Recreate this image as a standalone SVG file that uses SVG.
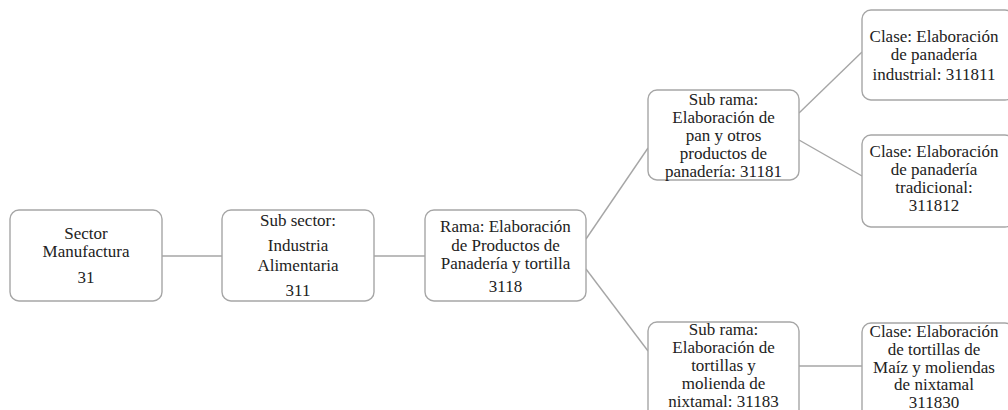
<svg xmlns="http://www.w3.org/2000/svg" width="1008" height="410" viewBox="0 0 1008 410">
<style>
.box{fill:#fff;stroke:#a6a6a6;stroke-width:1.4}
.t{font-family:'Liberation Serif','Times New Roman','DejaVu Serif',serif;font-size:17px;fill:#222;text-anchor:middle}
.c{stroke:#a6a6a6;stroke-width:1.4;fill:none}
</style>
<rect width="1008" height="410" fill="#fff"/>
<g id="connectors">
<line class="c" x1="162" y1="256" x2="222" y2="256"/>
<line class="c" x1="374" y1="256" x2="425" y2="256"/>
<line class="c" x1="586" y1="239" x2="648" y2="148"/>
<line class="c" x1="586" y1="269" x2="648" y2="351"/>
<line class="c" x1="799" y1="113" x2="862" y2="52"/>
<line class="c" x1="799" y1="140" x2="862" y2="176"/>
<line class="c" x1="799" y1="366" x2="862" y2="366"/>
</g>
<g id="n1">
<rect class="box" x="10" y="210" width="152" height="91" rx="9"/>
<text class="t" x="86" y="239" font-family="Liberation Serif, serif">Sector</text>
<text class="t" x="86" y="257" font-family="Liberation Serif, serif">Manufactura</text>
<text class="t" x="86" y="283" font-family="Liberation Serif, serif">31</text>
</g>
<g id="n2">
<rect class="box" x="222" y="210" width="152" height="91" rx="9"/>
<text class="t" x="298" y="226">Sub sector:</text>
<text class="t" x="298" y="251">Industria</text>
<text class="t" x="298" y="271">Alimentaria</text>
<text class="t" x="298" y="296">311</text>
</g>
<g id="n3">
<rect class="box" x="425" y="210" width="161" height="91" rx="9"/>
<text class="t" x="505.5" y="232">Rama: Elaboración</text>
<text class="t" x="505.5" y="251">de Productos de</text>
<text class="t" x="505.5" y="269">Panadería y tortilla</text>
<text class="t" x="505.5" y="292">3118</text>
</g>
<g id="n4">
<rect class="box" x="648" y="90" width="151" height="90" rx="9"/>
<text class="t" x="723.5" y="105">Sub rama:</text>
<text class="t" x="723.5" y="123">Elaboración de</text>
<text class="t" x="723.5" y="141">pan y otros</text>
<text class="t" x="723.5" y="159">productos de</text>
<text class="t" x="723.5" y="177">panadería: 31181</text>
</g>
<g id="n5">
<rect class="box" x="648" y="322" width="151" height="100" rx="9"/>
<text class="t" x="723.5" y="335">Sub rama:</text>
<text class="t" x="723.5" y="353">Elaboración de</text>
<text class="t" x="723.5" y="371">tortillas y</text>
<text class="t" x="723.5" y="389">molienda de</text>
<text class="t" x="723.5" y="407">nixtamal: 31183</text>
</g>
<g id="n6">
<rect class="box" x="862" y="10" width="152" height="90" rx="9"/>
<text class="t" x="934" y="42">Clase: Elaboración</text>
<text class="t" x="934" y="60">de panadería</text>
<text class="t" x="934" y="80">industrial: 311811</text>
</g>
<g id="n7">
<rect class="box" x="862" y="135" width="152" height="92" rx="9"/>
<text class="t" x="934" y="157">Clase: Elaboración</text>
<text class="t" x="934" y="175">de panadería</text>
<text class="t" x="934" y="193">tradicional:</text>
<text class="t" x="934" y="211">311812</text>
</g>
<g id="n8">
<rect class="box" x="862" y="323" width="152" height="100" rx="9"/>
<text class="t" x="934" y="337">Clase: Elaboración</text>
<text class="t" x="934" y="355">de tortillas de</text>
<text class="t" x="934" y="372.5">Maíz y moliendas</text>
<text class="t" x="934" y="390">de nixtamal</text>
<text class="t" x="934" y="407.5">311830</text>
</g>
</svg>
